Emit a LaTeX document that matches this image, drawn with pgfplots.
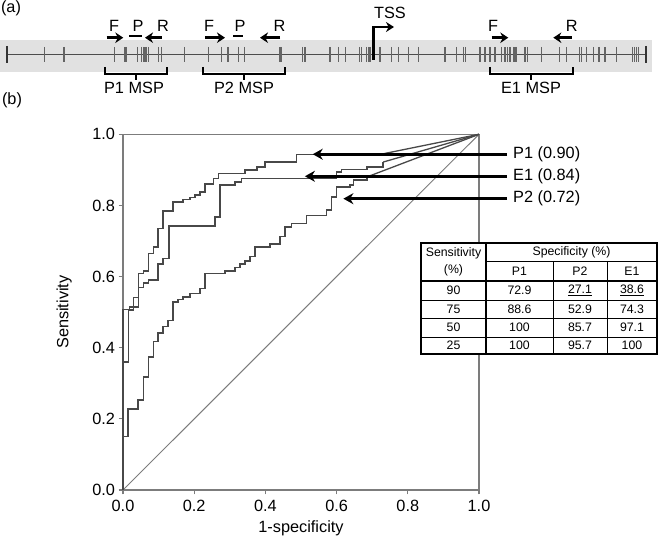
\documentclass[border=0pt]{standalone}
\usepackage{fontspec}
\setmainfont{Liberation Sans}
\usepackage{pgfplots}
\pgfplotsset{compat=1.18}
\usetikzlibrary{arrows.meta}

\definecolor{curve}{HTML}{484848}
\definecolor{frame}{HTML}{7C7C7C}
\definecolor{cpg}{HTML}{646464}
\definecolor{band}{HTML}{E1E1E1}

\newcommand\mainsize{\fontsize{16.3bp}{19bp}\selectfont}
\newcommand\tabsize{\fontsize{12.3bp}{14bp}\selectfont}

\begin{document}
\begin{tikzpicture}[font=\mainsize]
\path[use as bounding box] (0,0) rectangle (662bp,538bp);

% ---------- panel (b): ROC curves ----------
\begin{axis}[
    at={(123bp,48bp)}, anchor=south west,
    scale only axis, width=356bp, height=355.7bp,
    xmin=0, xmax=1, ymin=0, ymax=1,
    clip=false,
    font=\mainsize,
    axis line style={frame, line width=1.2bp},
    xtick={0,0.2,0.4,0.6,0.8,1}, ytick={0,0.2,0.4,0.6,0.8,1},
    xtick pos=bottom, ytick pos=left,
    tick align=outside, major tick length=4.5bp,
    tick style={frame, line width=1.2bp},
    xticklabel style={yshift=-2.5bp},
    /pgf/number format/assume math mode=true,
    /pgf/number format/fixed, /pgf/number format/fixed zerofill,
    /pgf/number format/precision=1,
    xlabel={1-specificity}, ylabel={Sensitivity},
    every axis x label/.style={at={(axis description cs:0.5,-0.107)}, anchor=center},
    every axis y label/.style={at={(axis description cs:-0.165,0.5)}, rotate=90, anchor=center},
]

% chance line
\addplot[frame, line width=1bp] coordinates {(0,0) (1,1)};

% P1
\addplot[curve, line width=1.5bp, const plot mark left] coordinates {
    (0,0) (0,0.507) (0.018,0.515) (0.029,0.541) (0.043,0.609) (0.057,0.616)
    (0.071,0.665) (0.085,0.683) (0.099,0.735) (0.113,0.785) (0.141,0.810)
    (0.169,0.817) (0.188,0.822) (0.202,0.829) (0.216,0.838) (0.230,0.860)
    (0.254,0.876) (0.268,0.890) (0.343,0.899) (0.376,0.908) (0.399,0.922)
    (0.488,0.943) (0.720,0.943)
};
\addplot[curve, line width=1.3bp] coordinates {(0.720,0.943) (1,1)};

% E1
\addplot[curve, line width=1.5bp, const plot mark left] coordinates {
    (0,0) (0,0.360) (0.015,0.506) (0.029,0.515) (0.043,0.569) (0.057,0.582)
    (0.071,0.590) (0.099,0.635) (0.113,0.651) (0.129,0.742) (0.258,0.768)
    (0.272,0.857) (0.315,0.866) (0.333,0.876) (0.600,0.894) (0.614,0.901)
    (0.685,0.908) (0.731,0.922)
};
\addplot[curve, line width=1.3bp] coordinates {(0.731,0.922) (1,1)};

% P2
\addplot[curve, line width=1.5bp, const plot mark left] coordinates {
    (0,0) (0,0.150) (0.014,0.228) (0.042,0.253) (0.057,0.317) (0.071,0.374)
    (0.085,0.417) (0.099,0.442) (0.113,0.459) (0.127,0.476) (0.141,0.529)
    (0.155,0.536) (0.169,0.543) (0.188,0.553) (0.216,0.567) (0.230,0.609)
    (0.287,0.616) (0.315,0.626) (0.329,0.635) (0.343,0.644) (0.357,0.657)
    (0.371,0.683) (0.413,0.691) (0.441,0.713) (0.455,0.740) (0.474,0.749)
    (0.516,0.772) (0.572,0.787) (0.586,0.824) (0.600,0.852) (0.638,0.857)
    (0.647,0.871) (0.685,0.880)
};
\addplot[curve, line width=1.3bp] coordinates {(0.685,0.880) (1,1)};

% AUC arrows
\addplot[black, line width=2.8bp, -{Stealth[length=10bp,width=11bp]}]
    coordinates {(1.079,0.944) (0.533,0.944)};
\addplot[black, line width=2.8bp, -{Stealth[length=10bp,width=11bp]}]
    coordinates {(1.079,0.882) (0.511,0.882)};
\addplot[black, line width=2.8bp, -{Stealth[length=10bp,width=11bp]}]
    coordinates {(1.079,0.819) (0.619,0.819)};
\node[anchor=west, inner sep=0pt] at (axis cs:1.0955,0.944) {P1 (0.90)};
\node[anchor=west, inner sep=0pt] at (axis cs:1.0955,0.882) {E1 (0.84)};
\node[anchor=west, inner sep=0pt] at (axis cs:1.0955,0.819) {P2 (0.72)};
\end{axis}

% ---------- panel (a) and table, in pixel coordinates ----------
\begin{axis}[
    at={(0,0)}, anchor=south west,
    scale only axis, width=662bp, height=538bp,
    xmin=0, xmax=662, ymin=0, ymax=538, y dir=reverse,
    hide axis, clip=false,
]
\node at (axis cs:11,8) {(a)};
\node at (axis cs:12,100) {(b)};

\fill[band] (axis cs:0,40) rectangle (axis cs:652,72);
\addplot[black!70, line width=1.3bp] coordinates {(6.7,54.3) (646,54.3)};

% CpG sites
\addplot[only marks, mark=|, mark size=7.5bp, mark options={cpg, line width=1.2bp}] coordinates {
    (44.3,54.3) (64,54.3) (114.3,54.3) (125,54.3) (126.7,54.3) (137.7,54.3)
    (141.7,54.3) (143.3,54.3) (145,54.3) (146.7,54.3) (148.3,54.3) (158.3,54.3)
    (161.7,54.3) (184.3,54.3) (208.3,54.3) (221.7,54.3) (227.3,54.3) (228.7,54.3)
    (238.3,54.3) (244.3,54.3) (280,54.3) (281.3,54.3) (302.7,54.3) (305,54.3)
    (330,54.3) (338.3,54.3) (345.7,54.3) (359.3,54.3) (361.7,54.3) (366.7,54.3)
    (368.3,54.3) (370,54.3) (380,54.3) (391.7,54.3) (398.3,54.3) (408.3,54.3)
    (418.3,54.3) (445,54.3) (456.7,54.3) (463.3,54.3) (465.3,54.3) (480,54.3)
    (485,54.3) (490,54.3) (495,54.3) (501.7,54.3) (505,54.3) (507.3,54.3)
    (510,54.3) (513.3,54.3) (515,54.3) (516.7,54.3) (525,54.3) (527.3,54.3)
    (541.7,54.3) (559.3,54.3) (566.7,54.3) (579.3,54.3) (581.7,54.3) (586.7,54.3)
    (593.3,54.3) (599,54.3) (605,54.3) (616.7,54.3) (632.7,54.3) (634.7,54.3)
    (636.7,54.3) (638.3,54.3)
};
\addplot[only marks, mark=|, mark size=8.5bp, mark options={black!80, line width=1.6bp}]
    coordinates {(6.7,54.3) (646,54.3)};

% TSS
\draw[black, line width=2.4bp, -{Stealth[length=8bp,width=10bp]}]
    (axis cs:373.3,60) -- (axis cs:373.3,27) -- (axis cs:394,27);
\node at (axis cs:390,12.5) {TSS};

% primers
\tikzset{primer/.style={black, line width=2.8bp, -{Stealth[length=8bp,width=10.5bp]}}}
\draw[primer] (axis cs:106.7,37.7) -- (axis cs:123.3,37.7);
\draw[black, line width=2.8bp] (axis cs:129.3,36) -- (axis cs:141.7,36);
\draw[primer] (axis cs:161.7,37.7) -- (axis cs:145,37.7);
\draw[primer] (axis cs:205,37.7) -- (axis cs:225,37.7);
\draw[black, line width=2.8bp] (axis cs:233.3,36) -- (axis cs:242.7,36);
\draw[primer] (axis cs:280,37.7) -- (axis cs:260,37.7);
\draw[primer] (axis cs:491.7,37.7) -- (axis cs:508.3,37.7);
\draw[primer] (axis cs:571.7,37.7) -- (axis cs:553.3,37.7);

\node at (axis cs:114,26) {F};
\node at (axis cs:138,26) {P};
\node at (axis cs:163,26) {R};
\node at (axis cs:209,26) {F};
\node at (axis cs:240,26) {P};
\node at (axis cs:279.5,26) {R};
\node at (axis cs:493,26) {F};
\node at (axis cs:571.7,26) {R};

% MSP brackets
\draw[black, line width=1.8bp] (axis cs:105,67) -- (axis cs:105,74) -- (axis cs:166.7,74) -- (axis cs:166.7,67);
\draw[black, line width=1.8bp] (axis cs:136,74) -- (axis cs:136,80);
\draw[black, line width=1.8bp] (axis cs:202.7,67) -- (axis cs:202.7,74) -- (axis cs:285,74) -- (axis cs:285,67);
\draw[black, line width=1.8bp] (axis cs:244,74) -- (axis cs:244,80);
\draw[black, line width=1.8bp] (axis cs:490,67) -- (axis cs:490,74) -- (axis cs:572.7,74) -- (axis cs:572.7,67);
\draw[black, line width=1.8bp] (axis cs:531,74) -- (axis cs:531,80);
\node at (axis cs:134,88) {P1 MSP};
\node at (axis cs:244,88) {P2 MSP};
\node at (axis cs:531,88) {E1 MSP};

% specificity table
\fill[white] (axis cs:421,243) rectangle (axis cs:657,354);
\draw[black, line width=1bp] (axis cs:486,261) -- (axis cs:657,261);
\draw[black, line width=1bp] (axis cs:421,300) -- (axis cs:657,300);
\draw[black, line width=1bp] (axis cs:421,318.5) -- (axis cs:657,318.5);
\draw[black, line width=1bp] (axis cs:421,337) -- (axis cs:657,337);
\draw[black, line width=1bp] (axis cs:553,261) -- (axis cs:553,354);
\draw[black, line width=1bp] (axis cs:607,261) -- (axis cs:607,354);
\draw[black, line width=1.7bp] (axis cs:421,281) -- (axis cs:657,281);
\draw[black, line width=1.7bp] (axis cs:486,243) -- (axis cs:486,354);
\draw[black, line width=2bp] (axis cs:421,243) rectangle (axis cs:657,354);

\node[font=\tabsize] at (axis cs:453.5,253.5) {Sensitivity};
\node[font=\tabsize] at (axis cs:453.5,270.5) {(\%)};
\node[font=\tabsize] at (axis cs:571.5,252) {Specificity (\%)};
\node[font=\tabsize] at (axis cs:519.5,271) {P1};
\node[font=\tabsize] at (axis cs:580,271) {P2};
\node[font=\tabsize] at (axis cs:632,271) {E1};
\node[font=\tabsize] at (axis cs:453.5,290.5) {90};
\node[font=\tabsize] at (axis cs:519.5,290.5) {72.9};
\node[font=\tabsize] at (axis cs:580,290.5) {\underline{27.1}};
\node[font=\tabsize] at (axis cs:632,290.5) {\underline{38.6}};
\node[font=\tabsize] at (axis cs:453.5,309) {75};
\node[font=\tabsize] at (axis cs:519.5,309) {88.6};
\node[font=\tabsize] at (axis cs:580,309) {52.9};
\node[font=\tabsize] at (axis cs:632,309) {74.3};
\node[font=\tabsize] at (axis cs:453.5,327.5) {50};
\node[font=\tabsize] at (axis cs:519.5,327.5) {100};
\node[font=\tabsize] at (axis cs:580,327.5) {85.7};
\node[font=\tabsize] at (axis cs:632,327.5) {97.1};
\node[font=\tabsize] at (axis cs:453.5,345.5) {25};
\node[font=\tabsize] at (axis cs:519.5,345.5) {100};
\node[font=\tabsize] at (axis cs:580,345.5) {95.7};
\node[font=\tabsize] at (axis cs:632,345.5) {100};
\end{axis}
\end{tikzpicture}
\end{document}
